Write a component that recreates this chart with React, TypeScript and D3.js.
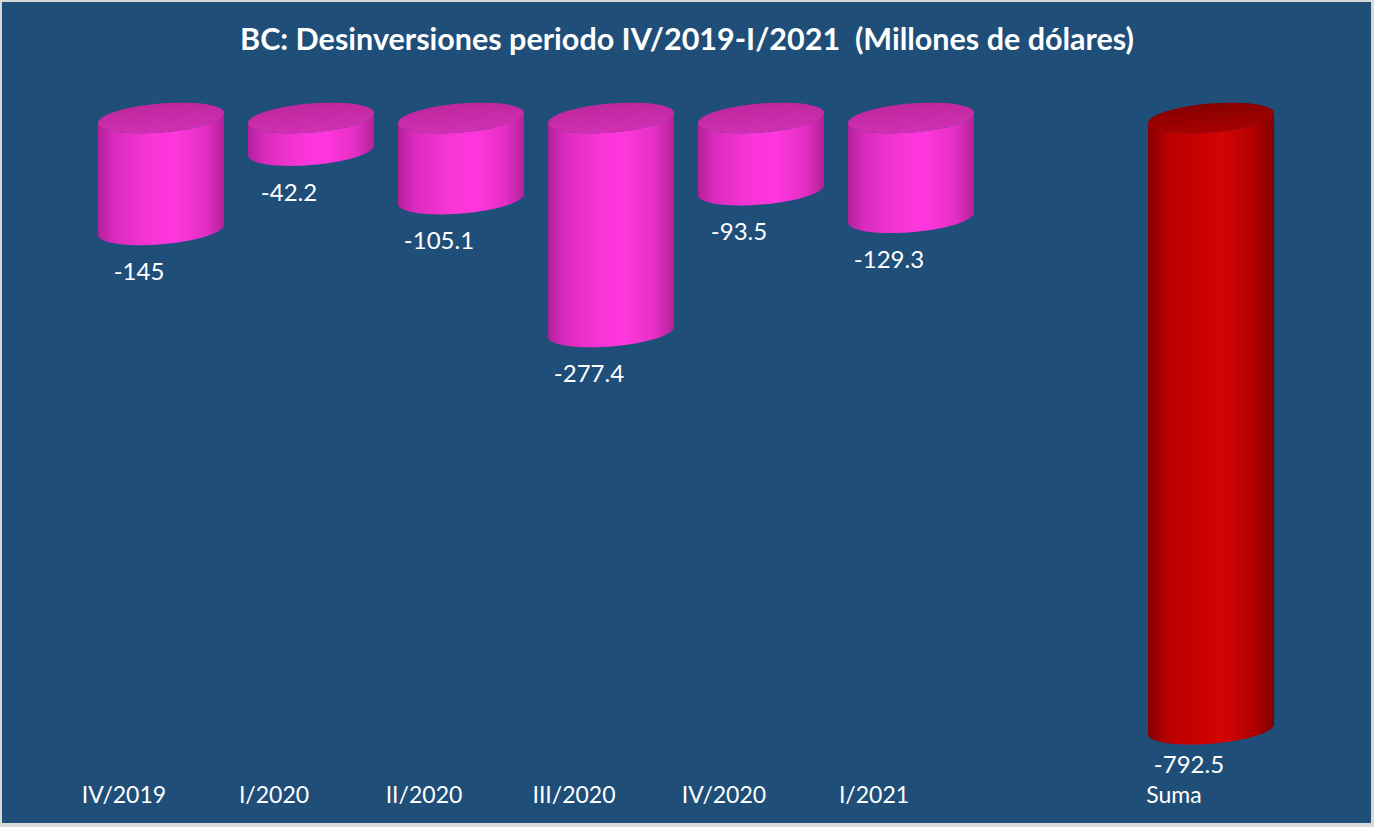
import React, { useEffect, useRef } from "react";
import * as d3 from "d3";

const categories = ["IV/2019", "I/2020", "II/2020", "III/2020", "IV/2020", "I/2021", "", "Suma"];
const values: (number | null)[] = [-145, -42.2, -105.1, -277.4, -93.5, -129.3, null, -792.5];
const totalIndex = 7;

const W = 1374;
const H = 827;

export default function App() {
  const ref = useRef<SVGSVGElement>(null);

  useEffect(() => {
    document.body.style.margin = "0";
    const svg = d3.select(ref.current);
    svg.selectAll("*").remove();

    const defs = svg.append("defs");

    // body gradients (horizontal shading of the cylinder)
    const bodyGrad = (id: string, stops: [number, string][]) => {
      const g = defs.append("linearGradient").attr("id", id).attr("x1", "0").attr("x2", "1").attr("y1", "0").attr("y2", "0");
      stops.forEach(([o, c]) => g.append("stop").attr("offset", o).attr("stop-color", c));
    };
    bodyGrad("pinkBody", [[0, "#B0209A"], [0.12, "#D82BBC"], [0.4, "#F834D6"], [0.62, "#FF37DE"], [0.85, "#E42FC4"], [1, "#B4219A"]]);
    bodyGrad("redBody", [[0, "#850000"], [0.15, "#B80000"], [0.45, "#CC0000"], [0.6, "#D20404"], [0.85, "#B00000"], [1, "#7E0000"]]);
    const capGrad = (id: string, a: string, b: string) => {
      const g = defs.append("linearGradient").attr("id", id).attr("x1", "0").attr("x2", "0.3").attr("y1", "0").attr("y2", "1");
      g.append("stop").attr("offset", 0).attr("stop-color", a);
      g.append("stop").attr("offset", 1).attr("stop-color", b);
    };
    capGrad("pinkCap", "#BC2699", "#D02FB2");
    capGrad("redCap", "#7E0000", "#A80000");

    // frame
    svg.append("rect").attr("width", W).attr("height", H).attr("fill", "#D9D9D9");
    svg.append("rect").attr("x", 2).attr("y", 2).attr("width", W - 5).attr("height", H - 6).attr("fill", "#1F4E79");

    const x = d3.scaleBand<string>().domain(categories).range([86, 1286]).paddingInner(0.16).paddingOuter(0.08);
    const y = d3.scaleLinear().domain([0, -800]).range([118, 735]);

    const ry = 14.5;
    const shear = 0.08;
    const ellipsePt = (cx: number, cy: number, rx: number, t: number): [number, number] => [
      cx + rx * Math.cos(t),
      cy + ry * Math.sin(t) - shear * rx * Math.cos(t),
    ];
    const line = d3.line();

    const g = svg.append("g");
    values.forEach((v, i) => {
      if (v == null) return;
      const rx = x.bandwidth() / 2;
      const cx = (x(categories[i]) as number) + rx;
      const yTop = y(0);
      const yBot = y(v);
      const isTotal = i === totalIndex;

      // body: left side down, front of bottom ellipse, right side up, front of top ellipse back
      const pts: [number, number][] = [];
      const n = 60;
      for (let k = 0; k <= n; k++) pts.push(ellipsePt(cx, yBot, rx, Math.PI - (Math.PI * k) / n));
      for (let k = 0; k <= n; k++) pts.push(ellipsePt(cx, yTop, rx, (Math.PI * k) / n));
      g.append("path")
        .attr("d", line(pts) + "Z")
        .attr("fill", `url(#${isTotal ? "redBody" : "pinkBody"})`);

      const cap: [number, number][] = d3.range(0, 121).map((k) => ellipsePt(cx, yTop, rx, (2 * Math.PI * k) / 120));
      g.append("path")
        .attr("d", line(cap) + "Z")
        .attr("fill", `url(#${isTotal ? "redCap" : "pinkCap"})`);

      g.append("text")
        .attr("x", cx - 22)
        .attr("y", yBot + (isTotal ? 44 : 50))
        .attr("text-anchor", "middle")
        .attr("fill", "#FFFFFF")
        .style("font-family", "Lato, 'Open Sans', sans-serif")
        .style("font-size", "24px")
        .text(String(v));
    });

    // category labels
    svg.append("g")
      .selectAll("text")
      .data(categories)
      .join("text")
      .attr("x", (d) => (x(d) as number) + x.bandwidth() / 2 - 37)
      .attr("y", 803)
      .attr("text-anchor", "middle")
      .attr("fill", "#FFFFFF")
      .style("font-family", "Lato, 'Open Sans', sans-serif")
      .style("font-size", "23px")
      .text((d) => d);

    svg.append("text")
      .attr("x", 687)
      .attr("y", 50)
      .attr("text-anchor", "middle")
      .attr("fill", "#FFFFFF")
      .style("font-family", "Lato, 'Open Sans', sans-serif")
      .style("font-weight", "bold")
      .style("font-size", "30.5px")
      .style("white-space", "pre")
      .text("BC: Desinversiones periodo IV/2019-I/2021  (Millones de dólares)");
  }, []);

  return <svg ref={ref} width={W} height={H} style={{ display: "block" }} />;
}
